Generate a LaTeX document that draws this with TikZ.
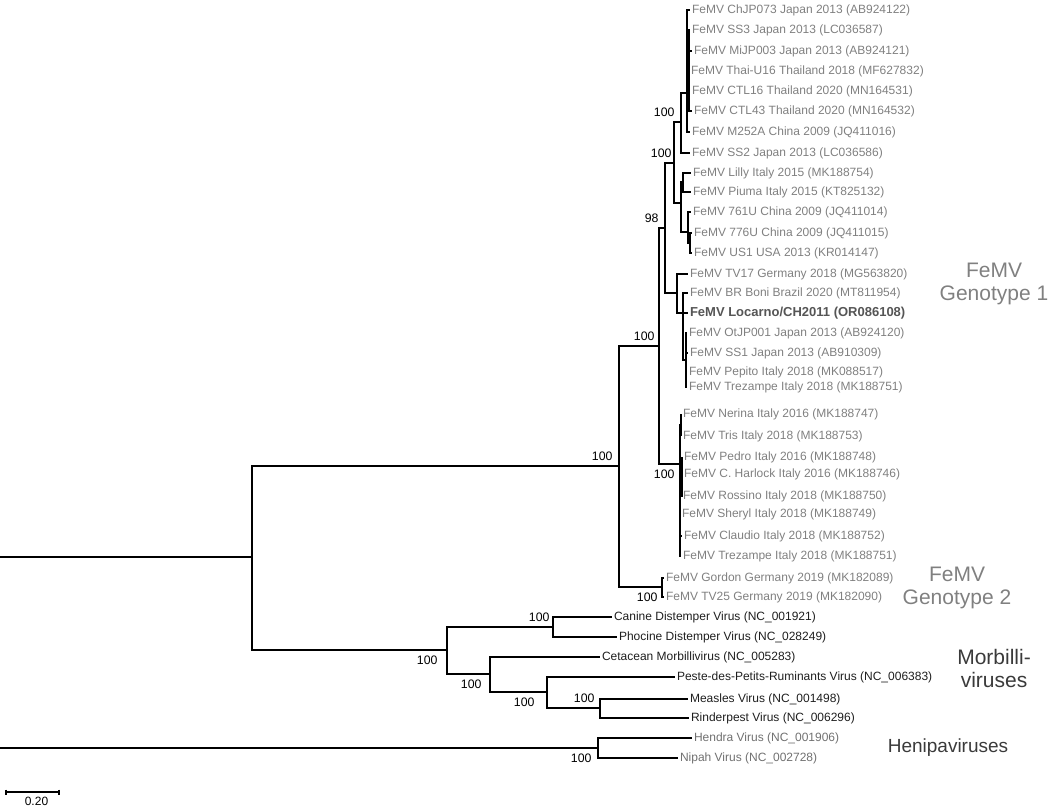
\documentclass[tikz,border=0pt]{standalone}
\usepackage{fontspec}
\setmainfont{Liberation Sans}
\usetikzlibrary{positioning}

\definecolor{femvgray}{HTML}{808080}
\definecolor{locgray}{HTML}{555555}
\definecolor{morbgray}{HTML}{1E1E1E}
\definecolor{henigray}{HTML}{707070}
\definecolor{grpgray}{HTML}{808080}
\definecolor{grpdark}{HTML}{3A3A3A}

\begin{document}
\begin{tikzpicture}[x=1pt,y=-1pt,line width=2pt,
	tip/.style={anchor=west,inner sep=1pt,font=\fontsize{12}{13}\selectfont},
	femv/.style={text=femvgray},
	morb/.style={text=morbgray},
	heni/.style={text=henigray},
	bsup/.style={anchor=south east,inner sep=1.5pt,yshift=3.2pt,font=\fontsize{12.3}{13}\selectfont},
	bsdn/.style={anchor=north east,inner sep=1.5pt,yshift=-3.2pt,font=\fontsize{12.3}{13}\selectfont},
	grp/.style={align=center,inner sep=0pt,font=\fontsize{21}{23}\selectfont}]

\useasboundingbox (0,0) rectangle (1051,808);

\def\leaf#1#2#3#4#5{\node[tip,#1] (#2) at (#3,#4) {#5};}
\def\bs#1#2#3{\node[#3] (b-#1) at (#1) {#2};}

% inner nodes
\coordinate (rootA) at (0,557);
\coordinate (rootB) at (0,748);
\coordinate (nIng) at (252,557);
\coordinate (nFeMV) at (619,466);
\coordinate (nGtA) at (659,346);
\coordinate (n98) at (665,228);
\coordinate (nAsia) at (674,163);
\coordinate (nJpA) at (681,122);
\coordinate (nJpB) at (687,93);
\coordinate (nJpC) at (689,70);
\coordinate (nItA) at (681,203);
\coordinate (nLil) at (683,182);
\coordinate (nChA) at (688,232);
\coordinate (nChB) at (690,243);
\coordinate (nTV) at (677,293);
\coordinate (nBoni) at (683,313);
\coordinate (nOt) at (686,360);
\coordinate (nIt) at (680,464);
\coordinate (nNer) at (681,425);
\coordinate (nPed) at (682,476);
\coordinate (nGtB) at (662,587);
\coordinate (nMor) at (447,650);
\coordinate (nDis) at (553,627);
\coordinate (nCet) at (490,674);
\coordinate (nPPR) at (547,692);
\coordinate (nMea) at (600,708);
\coordinate (nHen) at (598,748);

% FeMV genotype 1
\leaf{femv}{l01}{690}{10}{FeMV ChJP073 Japan 2013 (AB924122)}
\leaf{femv}{l02}{690}{30}{FeMV SS3 Japan 2013 (LC036587)}
\leaf{femv}{l03}{692}{51}{FeMV MiJP003 Japan 2013 (AB924121)}
\leaf{femv}{l04}{689}{71}{FeMV Thai-U16 Thailand 2018 (MF627832)}
\leaf{femv}{l05}{690}{91}{FeMV CTL16 Thailand 2020 (MN164531)}
\leaf{femv}{l06}{692}{111}{FeMV CTL43 Thailand 2020 (MN164532)}
\leaf{femv}{l07}{690}{132}{FeMV M252A China 2009 (JQ411016)}
\leaf{femv}{l08}{690}{153}{FeMV SS2 Japan 2013 (LC036586)}
\leaf{femv}{l09}{691}{173}{FeMV Lilly Italy 2015 (MK188754)}
\leaf{femv}{l10}{691}{192}{FeMV Piuma Italy 2015 (KT825132)}
\leaf{femv}{l11}{691}{212}{FeMV 761U China 2009 (JQ411014)}
\leaf{femv}{l12}{692}{233}{FeMV 776U China 2009 (JQ411015)}
\leaf{femv}{l13}{692}{253}{FeMV US1 USA 2013 (KR014147)}
\leaf{femv}{l14}{688}{274}{FeMV TV17 Germany 2018 (MG563820)}
\leaf{femv}{l15}{688}{293}{FeMV BR Boni Brazil 2020 (MT811954)}
\leaf{text=locgray,font=\fontsize{13}{14}\selectfont\bfseries}{l16}{688}{313}{FeMV Locarno/CH2011 (OR086108)}
\leaf{femv}{l17}{687}{333}{FeMV OtJP001 Japan 2013 (AB924120)}
\leaf{femv}{l18}{688}{353}{FeMV SS1 Japan 2013 (AB910309)}
\leaf{femv}{l19}{687}{372}{FeMV Pepito Italy 2018 (MK088517)}
\leaf{femv}{l20}{687}{387}{FeMV Trezampe Italy 2018 (MK188751)}
\leaf{femv}{l21}{681}{414}{FeMV Nerina Italy 2016 (MK188747)}
\leaf{femv}{l22}{681}{436}{FeMV Tris Italy 2018 (MK188753)}
\leaf{femv}{l23}{682}{457}{FeMV Pedro Italy 2016 (MK188748)}
\leaf{femv}{l24}{682}{474}{FeMV C. Harlock Italy 2016 (MK188746)}
\leaf{femv}{l25}{681}{496}{FeMV Rossino Italy 2018 (MK188750)}
\leaf{femv}{l26}{680}{514}{FeMV Sheryl Italy 2018 (MK188749)}
\leaf{femv}{l27}{682}{536}{FeMV Claudio Italy 2018 (MK188752)}
\leaf{femv}{l28}{681}{556}{FeMV Trezampe Italy 2018 (MK188751)}
% FeMV genotype 2
\leaf{femv}{l29}{664}{578}{FeMV Gordon Germany 2019 (MK182089)}
\leaf{femv}{l30}{664}{597}{FeMV TV25 Germany 2019 (MK182090)}
% morbilliviruses
\leaf{morb}{l31}{612}{617}{Canine Distemper Virus (NC\_001921)}
\leaf{morb}{l32}{617}{637}{Phocine Distemper Virus (NC\_028249)}
\leaf{morb}{l33}{600}{657}{Cetacean Morbillivirus (NC\_005283)}
\leaf{morb}{l34}{675}{677}{Peste-des-Petits-Ruminants Virus (NC\_006383)}
\leaf{morb}{l35}{688}{699}{Measles Virus (NC\_001498)}
\leaf{morb}{l36}{689}{718}{Rinderpest Virus (NC\_006296)}
% henipaviruses
\leaf{heni}{l37}{692}{738}{Hendra Virus (NC\_001906)}
\leaf{heni}{l38}{678}{758}{Nipah Virus (NC\_002728)}

% branches
\draw (rootA) -- (nIng);
\draw (rootB) -- (nHen);
\foreach \p/\c in {nIng/nFeMV,nIng/nMor,nFeMV/nGtA,nFeMV/nGtB,nGtA/n98,nGtA/nIt,
	n98/nAsia,n98/nTV,nAsia/nJpA,nAsia/nItA,nJpA/nJpB,nJpA/l08,
	nJpB/l01,nJpB/nJpC,nJpB/l07,nJpC/l02,nJpC/l03,nJpC/l04,nJpC/l05,nJpC/l06,
	nItA/nLil,nItA/nChA,nLil/l09,nLil/l10,nChA/l11,nChA/nChB,nChB/l12,nChB/l13,
	nTV/l14,nTV/nBoni,nBoni/l15,nBoni/l16,nBoni/nOt,
	nOt/l17,nOt/l18,nOt/l19,nOt/l20,
	nIt/nNer,nIt/nPed,nIt/l26,nIt/l27,nIt/l28,nNer/l21,nNer/l22,
	nPed/l23,nPed/l24,nPed/l25,nGtB/l29,nGtB/l30}
	\draw (\p) |- (\c);
\foreach \p/\c in {nMor/nDis,nMor/nCet,nDis/l31,nDis/l32,nCet/l33,nCet/nPPR,
	nPPR/l34,nPPR/nMea,nMea/l35,nMea/l36,nHen/l37,nHen/l38}
	\draw (\p) |- (\c);

% bootstrap values
\bs{nJpA}{100}{bsup,xshift=-4pt}
\bs{nAsia}{100}{bsup}
\bs{n98}{98}{bsup,xshift=-4pt}
\bs{nGtA}{100}{bsup,xshift=-2pt}
\bs{nFeMV}{100}{bsup,xshift=-4pt}
\bs{nIt}{100}{bsdn,xshift=-3pt}
\bs{nGtB}{100}{bsdn,xshift=-2pt}
\bs{nDis}{100}{bsup,xshift=-1pt}
\bs{nMea}{100}{bsup,xshift=-3pt}
\bs{nMor}{100}{bsdn,xshift=-7pt}
\bs{nCet}{100}{bsdn,xshift=-6pt}
\bs{nPPR}{100}{bsdn,xshift=-10pt}
\bs{nHen}{100}{bsdn,xshift=-4pt}

% groups
\node[grp,text=grpgray] (gt1) at (994,284) {FeMV\\Genotype 1};
\node[grp,text=grpgray] (gt2) at (957,588) {FeMV\\Genotype 2};
\node[grp,text=grpdark] (morbi) at (994,668) {Morbilli-\\viruses};
\node[grp,text=grpdark,font=\fontsize{19}{20}\selectfont] (henipa) at (948,748) {Henipaviruses};

% scale bar
\coordinate (sbA) at (6,792);
\coordinate (sbB) at (59,792);
\draw (sbA) -- (sbB);
\draw ([yshift=2.5pt]sbA) -- ([yshift=-2.5pt]sbA);
\draw ([yshift=2.5pt]sbB) -- ([yshift=-2.5pt]sbB);
\node[font=\fontsize{12}{13}\selectfont,inner sep=0pt] (sbl) at (36.5,801) {0.20};

\end{tikzpicture}
\end{document}
